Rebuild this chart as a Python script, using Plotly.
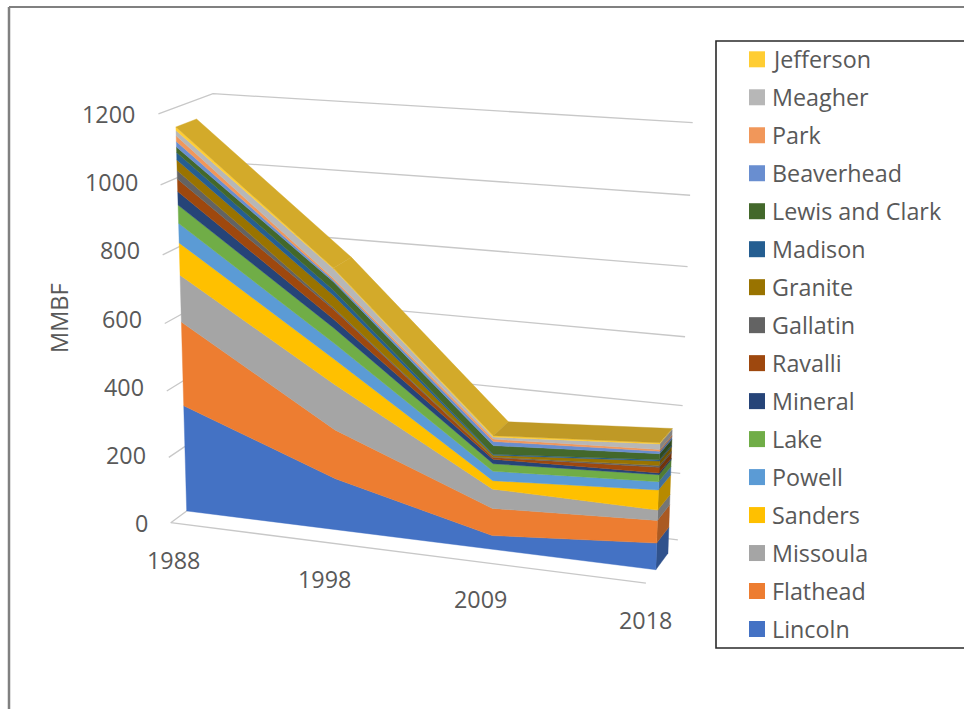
import numpy as np
import plotly.graph_objects as go

years = ["1988", "1998", "2009", "2018"]
counties = ["Lincoln", "Flathead", "Missoula", "Sanders", "Powell", "Lake", "Mineral", "Ravalli",
            "Gallatin", "Granite", "Madison", "Lewis and Clark", "Beaverhead", "Park", "Meagher", "Jefferson"]
lincoln = [325, 155, 41, 78]
flathead = [252, 147, 81, 66]
missoula = [139, 135, 57, 30]
sanders = [95, 74, 25, 58]
powell = [57, 47, 28, 24]
lake = [53, 44, 22, 20]
mineral = [39, 25, 13, 5]
ravalli = [36, 29, 5, 16]
gallatin = [25, 5, 2, 5]
granite = [30, 35, 5, 13]
madison = [21, 15, 3, 4]
lewis_and_clark = [16, 25, 25, 17]
beaverhead = [16, 5, 12, 7]
park = [16, 5, 7, 5]
meagher = [15, 28, 6, 16]
jefferson = [10, 2, 4, 3]
series = [lincoln, flathead, missoula, sanders, powell, lake, mineral, ravalli, gallatin, granite,
          madison, lewis_and_clark, beaverhead, park, meagher, jefferson]
colors = ["#4472C4", "#ED7D31", "#A5A5A5", "#FFC000", "#5B9BD5", "#70AD47", "#264478", "#9E480E",
          "#636363", "#997300", "#255E91", "#43682B", "#698ED0", "#F1975A", "#B7B7B7", "#FFCD33"]
y_ticks = [0, 200, 400, 600, 800, 1000, 1200]
FONT = "Open Sans"
TEXT = "#595959"
GRID = "#C8C8C8"
D_FRONT, D_BACK = 0.30, 0.68
VMAX = 1200.0

totals = np.sum(np.array(series, float), axis=0) / VMAX

# perspective camera of the 3-D chart box, fitted from box landmarks: (t, v/VMAX, depth) -> pixel
box = [((0, 0, 0), (172, 523)), ((0, 1/6, 0), (169, 458)), ((0, 2/6, 0), (166, 392)), ((0, 3/6, 0), (165, 323)),
       ((0, 4/6, 0), (163, 255)), ((0, 5/6, 0), (160, 185)), ((0, 1, 0), (158, 113)),
       ((0, 1, 1), (212, 94)),
       ((1, 1, 1), (692, 123)), ((1, 5/6, 1), (690, 196)), ((1, 4/6, 1), (688, 266)), ((1, 3/6, 1), (685, 336)),
       ((1, 2/6, 1), (683, 406)), ((1, 1/6, 1), (681, 473)), ((1, 0, 1), (678, 540)),
       ((1, 0, 0), (647, 583)),
       ((0, 0, D_FRONT), (187, 511)), ((1, 0, D_FRONT), (656, 569)), ((1, 0, D_BACK), (668, 553)),
       ((1/3, 0, D_FRONT), (333, 529)), ((2/3, 0, D_FRONT), (492, 548)),
       ((0, totals[0], D_FRONT), (177, 127)), ((0, totals[0], D_BACK), (198, 118)),
       ((2/3, totals[2], D_FRONT), (492.7, 436.7)), ((2/3, totals[2], D_BACK), (508.3, 422.7)),
       ((1, totals[3], D_FRONT), (659.3, 443.3)), ((1, totals[3], D_BACK), (672.3, 429.3))]
A, b = [], []
for (X, Y, Z), (u, w) in box:
    A.append([X, Y, Z, 1, 0, 0, 0, 0, -u*X, -u*Y, -u*Z]); b.append(u)
    A.append([0, 0, 0, 0, X, Y, Z, 1, -w*X, -w*Y, -w*Z]); b.append(w)
h = np.linalg.lstsq(np.array(A, float), np.array(b, float), rcond=None)[0]


def proj(t, v, d):
    Y = v / VMAX
    den = h[8]*t + h[9]*Y + h[10]*d + 1
    return ((h[0]*t + h[1]*Y + h[2]*d + h[3]) / den, (h[4]*t + h[5]*Y + h[6]*d + h[7]) / den)


def shade(c, f):
    return "#%02X%02X%02X" % tuple(int(int(c[i:i+2], 16) * f) for i in (1, 3, 5))


def poly(points, color):
    xs = [p[0] for p in points] + [points[0][0]]
    ys = [p[1] for p in points] + [points[0][1]]
    return go.Scatter(x=xs, y=ys, mode="lines", fill="toself", fillcolor=color,
                      line=dict(color=color, width=0.4), hoverinfo="skip", showlegend=False)


ts = [0, 1/3, 2/3, 1]
fig = go.Figure()

# gridlines on the walls
for v in y_ticks:
    pts = [proj(0, v, 0), proj(0, v, 1), proj(1, v, 1)]
    fig.add_trace(go.Scatter(x=[p[0] for p in pts], y=[p[1] for p in pts], mode="lines",
                             line=dict(color=GRID, width=1.3), hoverinfo="skip", showlegend=False))
pts = [proj(0, 0, 0), proj(1, 0, 0)]
fig.add_trace(go.Scatter(x=[p[0] for p in pts], y=[p[1] for p in pts], mode="lines",
                         line=dict(color=GRID, width=1.3), hoverinfo="skip", showlegend=False))

cum = np.zeros(4)
for vals, col in zip(series, colors):
    top = cum + np.array(vals, float)
    # end cap at the last year
    fig.add_trace(poly([proj(1, cum[3], D_FRONT), proj(1, cum[3], D_BACK),
                        proj(1, top[3], D_BACK), proj(1, top[3], D_FRONT)], shade(col, 0.72)))
    # front face
    face = [proj(t, c, D_FRONT) for t, c in zip(ts, cum)] + \
           [proj(t, c, D_FRONT) for t, c in zip(ts[::-1], top[::-1])]
    fig.add_trace(poly(face, col))
    cum = top

# top surface of the stack
strip_shades = [0.83, 0.83, 0.75]
for i in range(3):
    fig.add_trace(poly([proj(ts[i], cum[i], D_FRONT), proj(ts[i+1], cum[i+1], D_FRONT),
                        proj(ts[i+1], cum[i+1], D_BACK), proj(ts[i], cum[i], D_BACK)],
                       shade(colors[-1], strip_shades[i])))

ann = []
y0_label, y1_label = 523.0, 114.0
for v in y_ticks:
    x, _ = proj(0, v, 0)
    y = y0_label + (y1_label - y0_label) * v / VMAX
    ann.append(dict(x=x - 21, y=y, text=str(v), xanchor="right", yanchor="middle", showarrow=False,
                    font=dict(family=FONT, size=23.3, color=TEXT)))
x_nudges = [2.5, 3, 0.5, 0]
for t, yr, nudge in zip(ts, years, x_nudges):
    x, y = proj(t, 0, 0)
    ann.append(dict(x=x + nudge, y=y + 37, text=yr, xanchor="center", yanchor="middle", showarrow=False,
                    font=dict(family=FONT, size=23.3, color=TEXT)))
ann.append(dict(x=59, y=318, text="MMBF", textangle=-90, xanchor="center", yanchor="middle", showarrow=False,
                font=dict(family=FONT, size=23.5, color=TEXT)))

shapes = [
    dict(type="line", x0=9, y0=7, x1=964, y1=7, line=dict(color="#808080", width=2)),
    dict(type="line", x0=9, y0=7, x1=9, y1=709, line=dict(color="#808080", width=2.5)),
    dict(type="rect", x0=716, y0=41, x1=970, y1=648, line=dict(color="#2A2A2A", width=1.6)),
]
for i, (name, col) in enumerate(zip(counties[::-1], colors[::-1])):
    yc = 59.3 + i * 37.98
    shapes.append(dict(type="rect", x0=749, x1=765, y0=yc - 8, y1=yc + 8, fillcolor=col, line=dict(width=0)))
    ann.append(dict(x=769.5, y=yc, text=name, xanchor="left", yanchor="middle", showarrow=False,
                    font=dict(family=FONT, size=23.3, color=TEXT)))

fig.update_layout(
    width=964, height=709, margin=dict(l=0, r=0, t=0, b=0), paper_bgcolor="white", plot_bgcolor="white",
    xaxis=dict(range=[0, 964], visible=False, fixedrange=True),
    yaxis=dict(range=[709, 0], visible=False, fixedrange=True),
    showlegend=False, shapes=shapes, annotations=ann,
)
fig.write_html("out.html", config=dict(displayModeBar=False),
               post_script="document.body.style.margin='0';document.body.style.overflow='hidden';")
